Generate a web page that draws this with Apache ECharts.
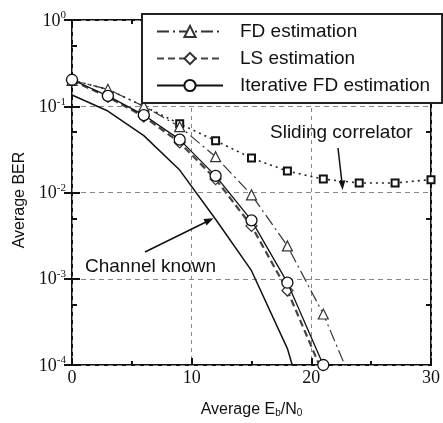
<!DOCTYPE html>
<html>
<head>
<meta charset="utf-8">
<script src="https://cdn.jsdelivr.net/npm/echarts@6/dist/echarts.min.js"></script>
<style>
html, body { margin: 0; padding: 0; background: #fff; }
#chart { width: 443px; height: 423px; }
</style>
</head>
<body>
<div id="chart"></div>
<script>
// Eb/N0 sample points (dB)
var ebn0 = [0, 3, 6, 9, 12, 15, 18, 21, 24, 27, 30];

// BER curves
var fdEst = [0.2, 0.157, 0.1, 0.058, 0.026, 0.0094, 0.0024, 0.00039, 0.00004];
var lsEst = [0.2, 0.128, 0.076, 0.038, 0.0143, 0.0041, 0.00073, 0.000078];
var iterFd = [0.203, 0.132, 0.079, 0.041, 0.0156, 0.00476, 0.0009, 0.0001];
var sliding = [0.2, 0.157, 0.1, 0.0626, 0.0398, 0.0251, 0.0177, 0.0143, 0.0129, 0.0129, 0.0141];
var known = [0.135, 0.088, 0.0456, 0.0182, 0.0049, 0.00124, 0.000155, 0.000006];

var legendNames = ['FD estimation', 'LS estimation', 'Iterative FD estimation'];
var yHalfTicks = [0.0005, 0.005, 0.05, 0.5];

function pairs(ys) {
    var out = [];
    for (var i = 0; i < ys.length; i++) {
        out.push([ebn0[i], ys[i]]);
    }
    return out;
}

var chart = echarts.init(document.getElementById('chart'));

var serif = 'Liberation Serif';
var sans = 'Liberation Sans';

function yLabel(v) {
    var e = Math.round(Math.log(v) / Math.LN10);
    return '{b|10}{s|' + e + '}';
}

var yRich = {
    b: {fontFamily: serif, fontSize: 18, color: '#111', lineHeight: 20, verticalAlign: 'bottom'},
    s: {fontFamily: serif, fontSize: 11, color: '#111', lineHeight: 20, verticalAlign: 'top', padding: [0, 0, 7, 0]}
};

var option = {
    backgroundColor: '#fff',
    animation: false,
    grid: {
        left: 72, right: 11, top: 20, bottom: 43,
        show: true,
        borderColor: '#111',
        borderWidth: 2
    },
    legend: {
        data: legendNames,
        orient: 'vertical',
        left: 142,
        top: 14,
        itemWidth: 66,
        itemHeight: 14,
        itemGap: 8,
        padding: [8, 12, 8, 14],
        backgroundColor: '#fff',
        borderColor: '#222',
        borderWidth: 2,
        borderRadius: 0,
        selectedMode: false,
        textStyle: {fontFamily: sans, fontSize: 19, color: '#111', padding: [0, 0, 0, 12]}
    },
    xAxis: [{
        type: 'value',
        min: 0, max: 30, interval: 10,
        position: 'bottom',
        name: '{t|Average E}{sub|b}{t|/N}{sub|0}',
        nameLocation: 'middle',
        nameGap: 37,
        nameTextStyle: {
            rich: {
                t: {fontFamily: sans, fontSize: 16, color: '#111'},
                sub: {fontFamily: sans, fontSize: 10, color: '#111', verticalAlign: 'bottom', padding: [6, 0, 0, 0]}
            }
        },
        axisLine: {show: false},
        axisTick: {show: true, inside: true, length: 7, lineStyle: {color: '#111', width: 2}},
        minorTick: {show: true, splitNumber: 2, length: 4, lineStyle: {color: '#111', width: 2}},
        axisLabel: {fontFamily: serif, fontSize: 18, color: '#111', margin: 4},
        splitLine: {show: true, lineStyle: {color: '#888', width: 1, type: [4, 4]}}
    }, {
        type: 'value',
        min: 0, max: 30, interval: 10,
        position: 'top',
        axisLine: {show: false},
        axisTick: {show: true, inside: true, length: 7, lineStyle: {color: '#111', width: 2}},
        minorTick: {show: true, splitNumber: 2, length: 4, lineStyle: {color: '#111', width: 2}},
        axisLabel: {show: false},
        splitLine: {show: false}
    }],
    yAxis: [{
        type: 'log',
        logBase: 10,
        min: 0.0001, max: 1,
        position: 'left',
        name: 'Average BER',
        nameLocation: 'middle',
        nameGap: 44,
        nameTextStyle: {fontFamily: sans, fontSize: 16, color: '#111', padding: [0, 15, 0, 0]},
        axisLine: {show: false},
        axisTick: {show: true, inside: true, length: 8, lineStyle: {color: '#111', width: 2}},
        axisLabel: {formatter: yLabel, rich: yRich, margin: 6},
        splitLine: {show: true, lineStyle: {color: '#888', width: 1, type: [5, 4]}}
    }, {
        type: 'log',
        logBase: 10,
        min: 0.0001, max: 1,
        position: 'right',
        axisLine: {show: false},
        axisTick: {show: true, inside: true, length: 8, lineStyle: {color: '#111', width: 2}},
        axisLabel: {show: false},
        splitLine: {show: false}
    }, {
        type: 'log',
        logBase: 10,
        min: 0.0001, max: 1,
        position: 'left',
        axisLine: {show: false},
        axisTick: {show: true, inside: true, length: 5, customValues: yHalfTicks, lineStyle: {color: '#111', width: 2}},
        axisLabel: {show: false},
        splitLine: {show: false}
    }, {
        type: 'log',
        logBase: 10,
        min: 0.0001, max: 1,
        position: 'right',
        axisLine: {show: false},
        axisTick: {show: true, inside: true, length: 5, customValues: yHalfTicks, lineStyle: {color: '#111', width: 2}},
        axisLabel: {show: false},
        splitLine: {show: false}
    }],
    series: [
        {
            name: 'Sliding correlator',
            type: 'line',
            data: pairs(sliding),
            clip: true,
            symbol: function (v, p) { return p.dataIndex < 3 ? 'none' : 'rect'; },
            symbolSize: 7,
            lineStyle: {color: '#222', width: 1.6, type: [2, 4]},
            itemStyle: {color: '#fff', borderColor: '#111', borderWidth: 2},
            z: 2
        },
        {
            name: 'Channel known',
            type: 'line',
            data: pairs(known),
            clip: true,
            symbol: 'none',
            lineStyle: {color: '#111', width: 1.5},
            z: 2
        },
        {
            name: 'FD estimation',
            type: 'line',
            data: pairs(fdEst),
            clip: true,
            symbol: 'triangle',
            symbolSize: 10,
            lineStyle: {color: '#333', width: 1.2, type: [12, 4, 2, 4]},
            itemStyle: {color: '#fff', borderColor: '#333', borderWidth: 1.2},
            z: 3
        },
        {
            name: 'LS estimation',
            type: 'line',
            data: pairs(lsEst),
            clip: true,
            symbol: 'diamond',
            symbolSize: 11,
            lineStyle: {color: '#444', width: 2.2, type: [7, 4]},
            itemStyle: {color: '#fff', borderColor: '#333', borderWidth: 1.2},
            z: 4
        },
        {
            name: 'Iterative FD estimation',
            type: 'line',
            data: pairs(iterFd),
            clip: true,
            symbol: 'circle',
            symbolSize: 11,
            lineStyle: {color: '#111', width: 1.3},
            itemStyle: {color: '#fff', borderColor: '#111', borderWidth: 1.3},
            z: 5
        }
    ],
    graphic: [
        {
            type: 'text', left: 270, top: 123, z: 10,
            style: {text: 'Sliding correlator', fontFamily: sans, fontSize: 19, fill: '#111'}
        },
        {
            type: 'line', z: 10,
            shape: {x1: 338, y1: 148, x2: 342, y2: 183},
            style: {stroke: '#111', lineWidth: 1.5}
        },
        {
            type: 'polygon', z: 10,
            shape: {points: [[342.6, 190], [338.6, 181], [345.4, 180.3]]},
            style: {fill: '#111'}
        },
        {
            type: 'text', left: 85, top: 257, z: 10,
            style: {text: 'Channel known', fontFamily: sans, fontSize: 19, fill: '#111'}
        },
        {
            type: 'line', z: 10,
            shape: {x1: 145, y1: 252, x2: 207, y2: 221.5},
            style: {stroke: '#111', lineWidth: 1.5}
        },
        {
            type: 'polygon', z: 10,
            shape: {points: [[213.5, 218.3], [203.5, 219], [206.5, 225.5]]},
            style: {fill: '#111'}
        }
    ]
};

chart.setOption(option);
</script>
</body>
</html>
